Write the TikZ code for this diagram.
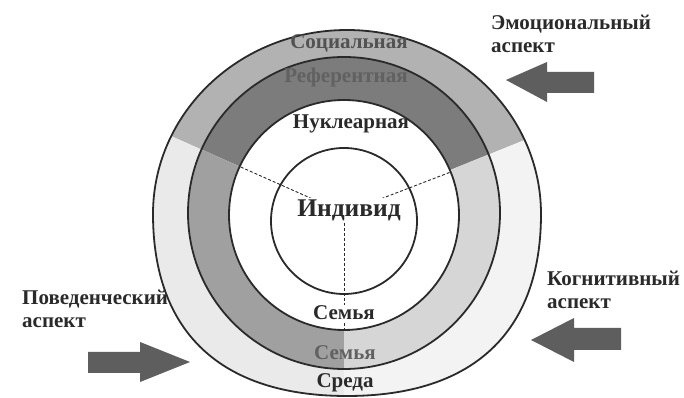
\documentclass[tikz,border=0pt]{standalone}
\usepackage{fontspec}
\setmainfont{Liberation Serif}
\usetikzlibrary{calc}
\definecolor{dtop}{HTML}{B2B2B2}
\definecolor{dleft}{HTML}{EAEAEA}
\definecolor{dright}{HTML}{F3F3F3}
\definecolor{ctop}{HTML}{7C7C7C}
\definecolor{cleft}{HTML}{A0A0A0}
\definecolor{cright}{HTML}{D6D6D6}
\definecolor{ink}{HTML}{2A2A2A}
\definecolor{arrowgrey}{HTML}{5E5E5E}
\newcommand\outeroval[1]{\path[#1] (347,368) .. controls (454.1,368) and (541,285.6) .. (541,184) .. controls (541,65.7) and (473.1,2) .. (347,2) .. controls (220.9,2) and (153,65.7) .. (153,184) .. controls (153,285.6) and (239.9,368) .. (347,368) -- cycle;}
\begin{document}
\begin{tikzpicture}[x=1pt,y=1pt,
  ringline/.style={draw=ink, line width=1.8pt},
  sepline/.style={draw=ink, line width=0.9pt, dash pattern=on 3pt off 2pt},
  lbl/.style={font=\bfseries\fontsize{21}{23}\selectfont, text=ink, inner sep=1pt},
  side/.style={font=\bfseries\fontsize{21}{23}\selectfont, text=ink, align=left, anchor=west, inner sep=0pt},
  blockarrow/.style={fill=arrowgrey}
]
\useasboundingbox (0,0) rectangle (684,398);
\fill[white] (0,0) rectangle (684,398);
\coordinate (c) at (344,185);
% ring sectors
\begin{scope}
  \clip (c) -- ++(22:320) -- ($(c)+(90:320)$) -- ($(c)+(156:320)$) -- cycle;
  \outeroval{fill=dtop}
  \fill[ctop] (344,185) circle [radius=156];
\end{scope}
\begin{scope}
  \clip (c) -- ++(156:320) -- ($(c)+(213:320)$) -- ($(c)+(270:320)$) -- cycle;
  \outeroval{fill=dleft}
  \fill[cleft] (344,185) circle [radius=156];
\end{scope}
\begin{scope}
  \clip (c) -- ++(270:320) -- ($(c)+(326:320)$) -- ($(c)+(22:320)$) -- cycle;
  \outeroval{fill=dright}
  \fill[cright] (344,185) circle [radius=156];
\end{scope}
\fill[white] (344,183) circle [radius=115];
% circles
\outeroval{ringline}
\draw[ringline] (344,185) circle [radius=156];
\draw[ringline] (344,183) circle [radius=115];
\draw[ringline] (344,177) circle [radius=73];
% dashed separators
\coordinate (eL) at ($(c)+(156:115)$);
\coordinate (eR) at ($(c)+(21:115)$);
\coordinate (eB) at ($(c)+(270:118)$);
\draw[sepline] (c) -- (eL);
\draw[sepline] (c) -- (eR);
\draw[sepline] (c) -- (eB);
% labels
\node[lbl, text=black!68] (soc) at (349,355) {Социальная};
\node[lbl, text=black!62] (ref) at (346,321) {Референтная};
\node[lbl] (nuk) at (351,274) {Нуклеарная};
\node[lbl, fill=white, font=\bfseries\fontsize{25.5}{27}\selectfont] (ind) at (349,188) {Индивид};
\node[lbl, fill=white] (sem1) at (344,85) {Семья};
\node[lbl, text=black!62] (sem2) at (345,45) {Семья};
\node[lbl] (sre) at (345,15) {Среда};
% side labels
\node[side] (emo) at (491,364.5) {Эмоциональный\\аспект};
\node[side] (pov) at (22,89.5) {Поведенческий\\аспект};
\node[side] (kog) at (547,108) {Когнитивный\\аспект};
% block arrows
\fill[blockarrow] (506,318) -- (547,336) -- (547,326) -- (594,326) -- (594,305) -- (547,305) -- (547,296) -- cycle;
\fill[blockarrow] (531,58) -- (574,80) -- (574,70) -- (621,70) -- (621,48) -- (574,48) -- (574,36) -- cycle;
\fill[blockarrow] (190,36) -- (140,56) -- (140,46) -- (88,46) -- (88,25) -- (140,25) -- (140,16) -- cycle;
\end{tikzpicture}
\end{document}
